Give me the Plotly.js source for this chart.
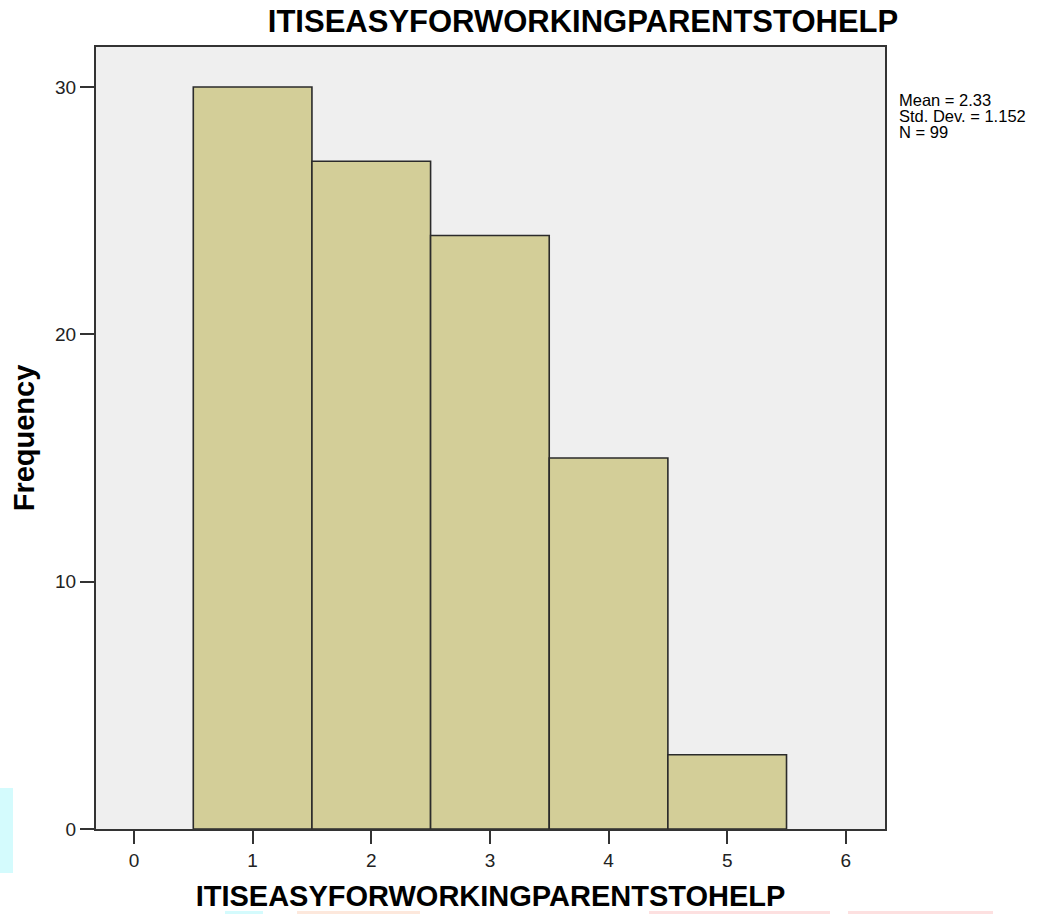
<!DOCTYPE html>
<html>
<head>
<meta charset="utf-8">
<script src="https://cdn.plot.ly/plotly-3.0.1.min.js"></script>
<style>html,body{margin:0;padding:0;background:#fff;}#chart{width:1062px;height:914px;}</style>
</head>
<body>
<div id="chart"></div>
<script>
var varName = "ITISEASYFORWORKINGPARENTSTOHELP";
var binCenters = [1, 2, 3, 4, 5];
var frequencies = [30, 27, 24, 15, 3];
var xTickVals = [0, 1, 2, 3, 4, 5, 6];
var yTickVals = [0, 10, 20, 30];
var statsLines = ["Mean = 2.33", "Std. Dev. = 1.152", "N = 99"];

var font = "Liberation Sans, Arial, sans-serif";

var trace = {
  type: "bar",
  x: binCenters,
  y: frequencies,
  width: 1,
  marker: {color: "#d3ce98", line: {color: "#2b2b2b", width: 1.6}},
  hoverinfo: "x+y"
};

var annotations = statsLines.map(function (t, i) {
  return {
    text: t, xref: "paper", yref: "paper",
    x: (897 - 96) / 789, y: (829 - (100 + i * 16)) / 782,
    xanchor: "left", yanchor: "middle", showarrow: false,
    font: {family: font, size: 16.5, color: "#000"}
  };
});

function strip(x0, x1, y0, y1, c) {
  return {type: "rect", xref: "paper", yref: "paper", layer: "below",
    x0: (x0 - 96) / 789, x1: (x1 - 96) / 789,
    y0: (829 - y1) / 782, y1: (829 - y0) / 782,
    fillcolor: c, line: {width: 0}};
}

var layout = {
  width: 1062, height: 914,
  margin: {l: 96, r: 177, t: 47, b: 85},
  paper_bgcolor: "#ffffff",
  plot_bgcolor: "#efefef",
  showlegend: false,
  bargap: 0,
  title: {
    text: "<b>" + varName + "</b>",
    font: {family: font, size: 31, color: "#000"},
    x: 583 / 1062, xanchor: "center", xref: "container",
    y: 1 - 21 / 914, yanchor: "middle", yref: "container"
  },
  xaxis: {
    range: [-0.32, 6.33],
    tickvals: xTickVals,
    ticktext: xTickVals.map(String),
    ticks: "outside", ticklen: 13, tickwidth: 2, tickcolor: "#333",
    showgrid: false, zeroline: false,
    showline: true, linecolor: "#333", linewidth: 2, mirror: true,
    tickfont: {family: font, size: 19, color: "#222"},
    title: {text: "<b>" + varName + "</b>", font: {family: font, size: 29, color: "#000"}, standoff: 16}
  },
  yaxis: {
    range: [0, 31.62],
    tickvals: yTickVals,
    ticks: "outside", ticklen: 14, tickwidth: 2, tickcolor: "#333",
    showgrid: false, zeroline: false,
    showline: true, linecolor: "#333", linewidth: 2, mirror: true,
    tickfont: {family: font, size: 19, color: "#222"},
    title: {text: "<b>Frequency</b>", font: {family: font, size: 29, color: "#000"}, standoff: 12}
  },
  annotations: annotations,
  shapes: [
    strip(0, 13, 788, 873, "#d4fbfd"),
    strip(225, 263, 911, 914, "#d4fbfd"),
    strip(297, 420, 911, 914, "#fde8dc"),
    strip(649, 830, 911, 914, "#fde0e0"),
    strip(848, 993, 911, 914, "#fde0e0")
  ]
};

Plotly.newPlot("chart", [trace], layout, {displayModeBar: false, staticPlot: true});
</script>
</body>
</html>
